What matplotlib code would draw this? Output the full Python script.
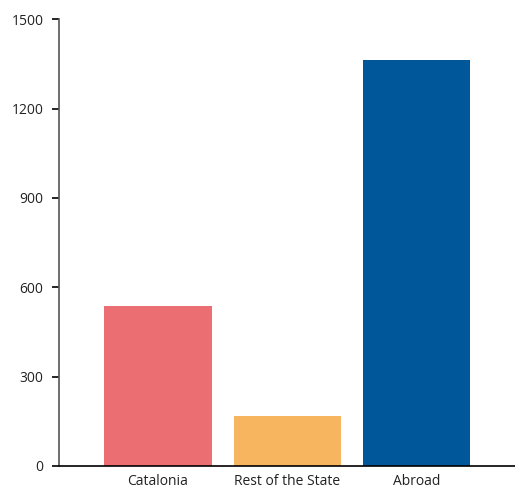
import matplotlib
matplotlib.use("Agg")
import matplotlib.pyplot as plt

categories = ["Catalonia", "Rest of the State", "Abroad"]
values = [537, 168, 1364]
colors = ["#EB6E72", "#F6B55E", "#00579A"]
yticks = [0, 300, 600, 900, 1200, 1500]

plt.rcParams['font.family'] = ['Open Sans', 'DejaVu Sans']
fig = plt.figure(figsize=(5.15, 4.91), dpi=100)
ax = fig.add_axes([0.114, 0.051, 0.886, 0.910])
x = list(range(len(categories)))
ax.bar(x, values, width=0.83, color=colors)
ax.set_xlim(-0.766, 2.76)
ax.set_ylim(0, 1500)
ax.set_yticks(yticks)
ax.set_yticklabels([str(v) for v in yticks], fontsize=10, color="#222222")
ax.set_xticks(x)
ax.set_xticklabels(categories, fontsize=10, color="#222222")
ax.tick_params(axis='x', length=0, pad=6)
ax.tick_params(axis='y', length=5, width=1.2, color="black", pad=6)
for s in ["top", "right"]:
    ax.spines[s].set_visible(False)
ax.spines["left"].set_color("#555555")
ax.spines["left"].set_linewidth(1.2)
ax.spines["bottom"].set_color("black")
ax.spines["bottom"].set_linewidth(1.2)
fig.savefig("out.png", dpi=100)
